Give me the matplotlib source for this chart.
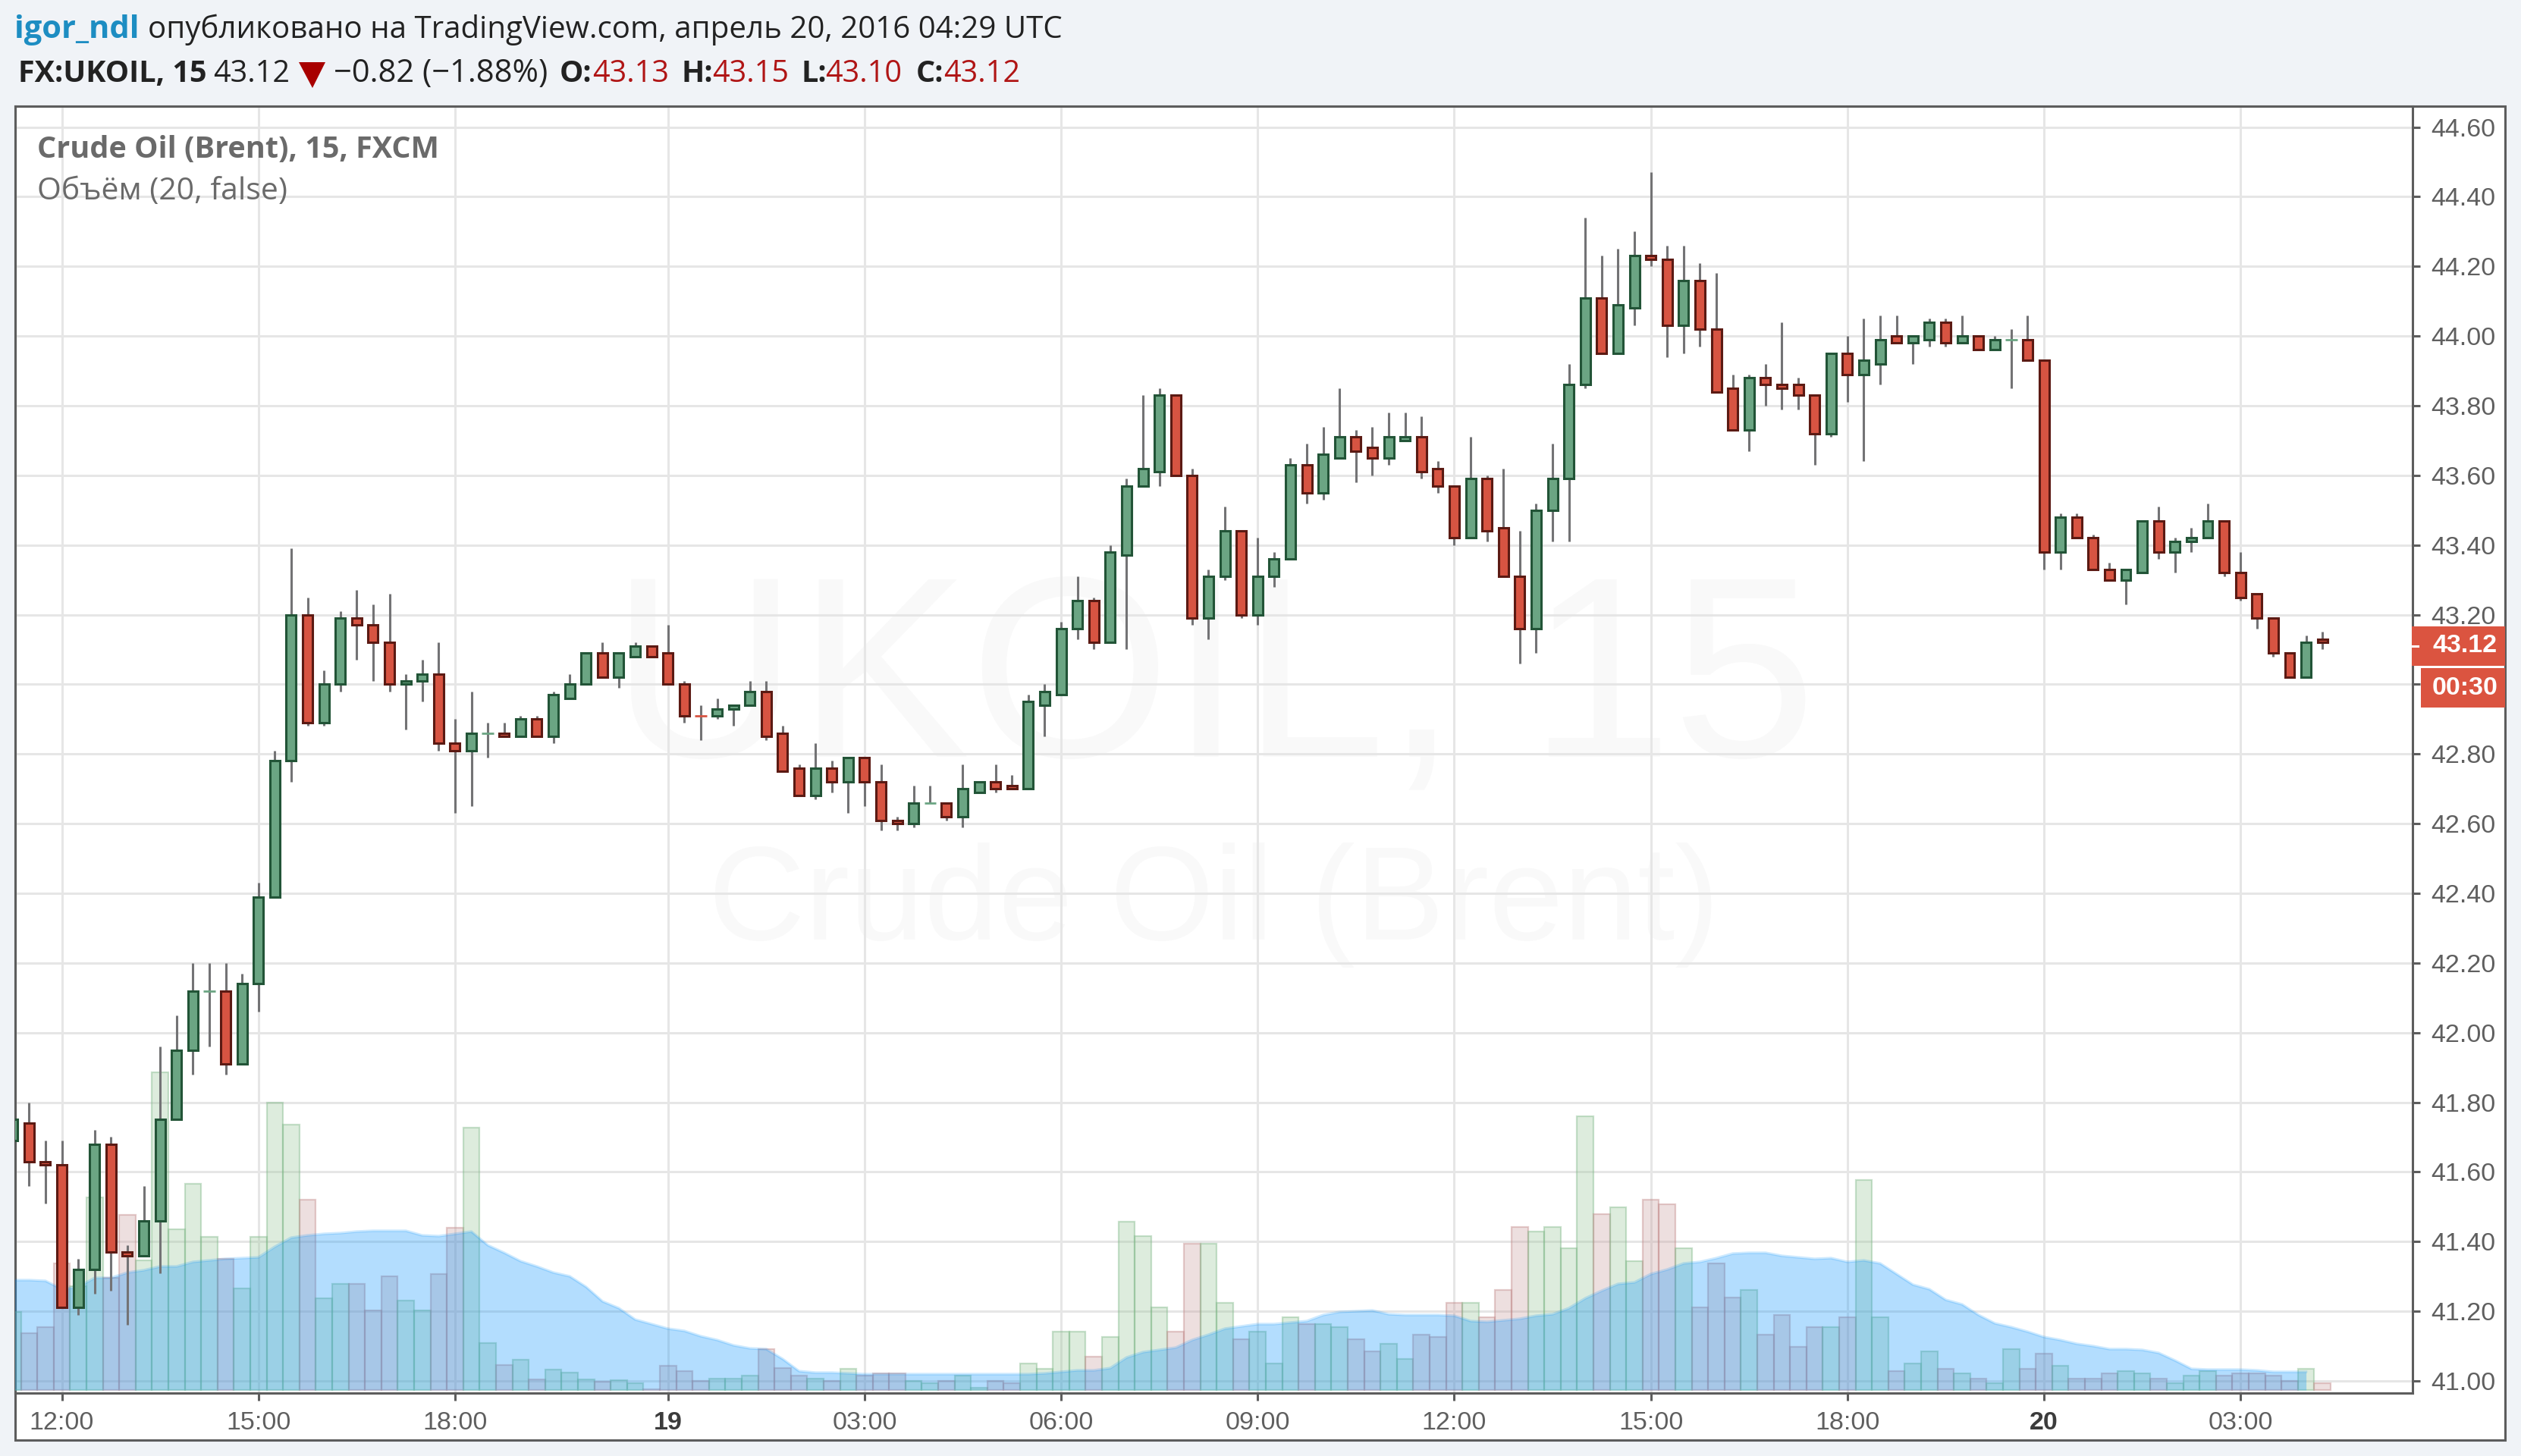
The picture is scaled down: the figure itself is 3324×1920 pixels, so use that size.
import numpy as np
import matplotlib
matplotlib.use("Agg")
import matplotlib.pyplot as plt
from matplotlib.patches import Rectangle, Polygon

W, H = 3324, 1920

# first bar is the one cut by the left border, 12:00 is bar 0
first_bar = -3
opens = [41.69, 41.74, 41.63, 41.62, 41.21, 41.32, 41.68, 41.37, 41.36, 41.46,
         41.75, 41.95, 42.12, 42.12, 41.91, 42.14, 42.39, 42.78, 43.20, 42.89,
         43.00, 43.19, 43.17, 43.12, 43.00, 43.01, 43.03, 42.83, 42.81, 42.86,
         42.86, 42.85, 42.90, 42.85, 42.96, 43.00, 43.09, 43.02, 43.08, 43.11,
         43.09, 43.00, 42.912, 42.91, 42.93, 42.94, 42.98, 42.86, 42.76, 42.68,
         42.76, 42.72, 42.79, 42.72, 42.61, 42.60, 42.66, 42.66, 42.62, 42.69,
         42.72, 42.71, 42.70, 42.94, 42.97, 43.16, 43.24, 43.12, 43.37, 43.57,
         43.61, 43.83, 43.60, 43.19, 43.31, 43.44, 43.20, 43.31, 43.36, 43.63,
         43.55, 43.65, 43.71, 43.68, 43.65, 43.70, 43.71, 43.62, 43.57, 43.42,
         43.59, 43.45, 43.31, 43.16, 43.50, 43.59, 43.86, 44.11, 43.95, 44.08,
         44.23, 44.22, 44.03, 44.16, 44.02, 43.85, 43.73, 43.88, 43.86, 43.86,
         43.83, 43.72, 43.95, 43.89, 43.92, 44.00, 43.98, 43.99, 44.04, 43.98,
         44.00, 43.96, 43.99, 43.99, 43.93, 43.38, 43.48, 43.42, 43.33, 43.30,
         43.32, 43.47, 43.38, 43.41, 43.42, 43.47, 43.32, 43.26, 43.19, 43.09,
         43.02, 43.13]
highs = [41.75, 41.80, 41.69, 41.69, 41.35, 41.72, 41.70, 41.39, 41.56, 41.96,
         42.05, 42.20, 42.20, 42.20, 42.17, 42.43, 42.81, 43.39, 43.25, 43.04,
         43.21, 43.27, 43.23, 43.26, 43.03, 43.07, 43.12, 42.90, 42.98, 42.89,
         42.89, 42.91, 42.91, 42.98, 43.03, 43.09, 43.12, 43.09, 43.12, 43.11,
         43.17, 43.01, 42.94, 42.96, 42.94, 43.01, 43.01, 42.88, 42.77, 42.83,
         42.78, 42.79, 42.79, 42.77, 42.62, 42.71, 42.71, 42.66, 42.77, 42.72,
         42.77, 42.74, 42.97, 43.00, 43.18, 43.31, 43.25, 43.40, 43.59, 43.83,
         43.85, 43.83, 43.62, 43.33, 43.51, 43.44, 43.42, 43.38, 43.65, 43.69,
         43.74, 43.85, 43.73, 43.74, 43.78, 43.78, 43.77, 43.64, 43.57, 43.71,
         43.60, 43.62, 43.44, 43.52, 43.69, 43.92, 44.34, 44.23, 44.25, 44.30,
         44.47, 44.26, 44.26, 44.21, 44.18, 43.89, 43.89, 43.92, 44.04, 43.88,
         43.83, 43.95, 44.00, 44.05, 44.06, 44.06, 44.00, 44.05, 44.05, 44.06,
         44.00, 44.00, 44.02, 44.06, 43.93, 43.49, 43.49, 43.43, 43.35, 43.33,
         43.47, 43.51, 43.42, 43.45, 43.52, 43.47, 43.38, 43.26, 43.19, 43.09,
         43.14, 43.15]
lows = [41.69, 41.56, 41.51, 41.21, 41.19, 41.25, 41.26, 41.16, 41.36, 41.31,
        41.75, 41.88, 41.96, 41.88, 41.91, 42.06, 42.39, 42.72, 42.88, 42.88,
        42.98, 43.07, 43.01, 42.98, 42.87, 42.95, 42.81, 42.63, 42.65, 42.79,
        42.85, 42.85, 42.85, 42.83, 42.96, 43.00, 43.02, 42.99, 43.08, 43.08,
        43.00, 42.89, 42.84, 42.90, 42.88, 42.94, 42.84, 42.75, 42.68, 42.67,
        42.69, 42.63, 42.65, 42.58, 42.58, 42.59, 42.66, 42.61, 42.59, 42.69,
        42.69, 42.70, 42.70, 42.85, 42.97, 43.13, 43.10, 43.12, 43.10, 43.57,
        43.57, 43.60, 43.17, 43.13, 43.30, 43.19, 43.17, 43.28, 43.36, 43.52,
        43.53, 43.65, 43.58, 43.60, 43.63, 43.70, 43.59, 43.55, 43.40, 43.42,
        43.41, 43.31, 43.06, 43.09, 43.41, 43.41, 43.85, 43.95, 43.95, 44.03,
        44.20, 43.94, 43.95, 43.97, 43.84, 43.73, 43.67, 43.80, 43.79, 43.79,
        43.63, 43.71, 43.81, 43.64, 43.86, 43.98, 43.92, 43.97, 43.97, 43.98,
        43.96, 43.96, 43.85, 43.93, 43.33, 43.33, 43.42, 43.33, 43.30, 43.23,
        43.32, 43.36, 43.32, 43.38, 43.42, 43.31, 43.24, 43.16, 43.08, 43.02,
        43.02, 43.10]
closes = [41.75, 41.63, 41.62, 41.21, 41.32, 41.68, 41.37, 41.36, 41.46, 41.75,
          41.95, 42.12, 42.12, 41.91, 42.14, 42.39, 42.78, 43.20, 42.89, 43.00,
          43.19, 43.17, 43.12, 43.00, 43.01, 43.03, 42.83, 42.81, 42.86, 42.86,
          42.85, 42.90, 42.85, 42.97, 43.00, 43.09, 43.02, 43.09, 43.11, 43.08,
          43.00, 42.91, 42.91, 42.93, 42.94, 42.98, 42.85, 42.75, 42.68, 42.76,
          42.72, 42.79, 42.72, 42.61, 42.60, 42.66, 42.66, 42.62, 42.70, 42.72,
          42.70, 42.70, 42.95, 42.98, 43.16, 43.24, 43.12, 43.38, 43.57, 43.62,
          43.83, 43.60, 43.19, 43.31, 43.44, 43.20, 43.31, 43.36, 43.63, 43.55,
          43.66, 43.71, 43.67, 43.65, 43.71, 43.71, 43.61, 43.57, 43.42, 43.59,
          43.44, 43.31, 43.16, 43.50, 43.59, 43.86, 44.11, 43.95, 44.09, 44.23,
          44.22, 44.03, 44.16, 44.02, 43.84, 43.73, 43.88, 43.86, 43.85, 43.83,
          43.72, 43.95, 43.89, 43.93, 43.99, 43.98, 44.00, 44.04, 43.98, 44.00,
          43.96, 43.99, 43.99, 43.93, 43.38, 43.48, 43.42, 43.33, 43.30, 43.33,
          43.47, 43.38, 43.41, 43.42, 43.47, 43.32, 43.25, 43.19, 43.09, 43.02,
          43.12, 43.12]
volumes = [103, 75, 83, 167, 137, 254, 148, 231, 171, 419,
           212, 272, 202, 173, 134, 202, 379, 350, 251, 121,
           140, 140, 105, 150, 118, 105, 153, 214, 346, 62,
           33, 40, 14, 27, 23, 14, 11, 13, 9, 1,
           32, 25, 12, 15, 15, 19, 54, 29, 19, 15,
           12, 28, 19, 22, 22, 12, 9, 12, 19, 3,
           12, 9, 35, 28, 77, 77, 44, 70, 222, 203,
           109, 77, 193, 193, 115, 67, 77, 35, 96, 87,
           87, 83, 67, 51, 61, 41, 73, 70, 115, 115,
           96, 132, 215, 209, 215, 187, 361, 232, 241, 170,
           251, 245, 187, 109, 167, 122, 132, 73, 99, 57,
           83, 83, 96, 277, 96, 25, 35, 51, 28, 22,
           15, 9, 54, 28, 48, 32, 15, 15, 22, 25,
           22, 15, 9, 19, 25, 19, 22, 22, 19, 12,
           28, 9]
volume_ma = [145, 145, 144, 133, 136, 148, 148, 155, 158, 163,
             163, 169, 171, 173, 174, 175, 189, 201, 204, 206,
             207, 209, 210, 210, 210, 204, 203, 206, 209, 191,
             181, 170, 163, 155, 150, 136, 117, 108, 93, 87,
             81, 78, 71, 66, 59, 55, 54, 41, 25, 23,
             23, 22, 21, 21, 21, 21, 21, 21, 21, 21,
             21, 21, 21, 22, 24, 26, 26, 29, 43, 50,
             53, 56, 66, 73, 81, 84, 87, 87, 89, 91,
             99, 103, 104, 105, 100, 99, 99, 99, 98, 91,
             90, 92, 94, 98, 100, 108, 121, 131, 140, 142,
             153, 159, 167, 169, 174, 180, 181, 181, 177, 175,
             173, 174, 169, 171, 167, 153, 139, 133, 119, 113,
             99, 88, 83, 77, 70, 66, 61, 58, 54, 54,
             53, 49, 39, 28, 27, 27, 27, 26, 24, 24,
             24]

time_ticks = [0, 12, 24, 37, 49, 61, 73, 85, 97, 109, 121, 133]
time_labels = ["12:00", "15:00", "18:00", "19", "03:00", "06:00", "09:00",
               "12:00", "15:00", "18:00", "20", "03:00"]
price_ticks = [41.00, 41.20, 41.40, 41.60, 41.80, 42.00, 42.20, 42.40, 42.60, 42.80,
               43.00, 43.20, 43.40, 43.60, 43.80, 44.00, 44.20, 44.40, 44.60]

plt.rcParams['font.family'] = ['Liberation Sans', 'DejaVu Sans']

bg = '#F0F3F7'
frame = '#5D5D5D'
grid_c = '#E6E6E6'
label_c = '#5F5F5F'
tag_c = '#DB5440'


def fx(x):
    return x / W


def fy(y):
    return 1 - y / H


def rect_axes(left, top, right, bottom):
    return [fx(left), fy(bottom), (right - left) / W, (bottom - top) / H]


fig = plt.figure(figsize=(W / 100, H / 100), dpi=100, facecolor=bg)

# white panel with the outer frame
fig.patches.append(Rectangle((fx(20), fy(1899)), 3283 / W, 1759 / H, transform=fig.transFigure,
                             facecolor='white', edgecolor=frame, linewidth=2.2, zorder=0))

pos = rect_axes(20, 140, 3181, 1837)

# price axes: grid, watermark, ticks
ax = fig.add_axes(pos, zorder=1)
ax.patch.set_alpha(0)
xs = np.arange(len(closes)) + first_bar
ax.set_xlim(-2.85, 143.5)
ax.set_ylim(40.965, 44.66)
ax.yaxis.tick_right()
ax.set_yticks(price_ticks)
ax.set_yticklabels([f"{p:.2f}" for p in price_ticks])
ax.set_xticks(time_ticks)
ax.set_xticklabels(time_labels)
ax.grid(True, color=grid_c, linewidth=2.2)
ax.set_axisbelow(True)
ax.tick_params(axis='both', length=7.5, width=2.2, color=frame, labelcolor=label_c, labelsize=24.5)
ax.tick_params(axis='x', pad=10)
ax.tick_params(axis='y', pad=10)
for lab in ax.get_xticklabels():
    if len(lab.get_text()) == 2:
        lab.set_fontweight('bold')
        lab.set_color('#3C3C3C')
for s in ax.spines.values():
    s.set_color(frame)
    s.set_linewidth(2.2)

ax.text(0.5, 0.546, "UKOIL, 15", transform=ax.transAxes, ha='center', va='center',
        fontsize=245, color='#F9F9F9', zorder=0.5)
ax.text(0.5, 0.379, "Crude Oil (Brent)", transform=ax.transAxes, ha='center', va='center',
        fontsize=127, color='#F9F9F9', zorder=0.5)

# volume and its moving average, on their own scale
vol_ax = fig.add_axes(pos, zorder=2, sharex=ax)
vol_ax.patch.set_alpha(0)
vol_ax.set_ylim(-4, 1693)
vol_ax.axis('off')
c = np.array(closes)
o = np.array(opens)
up = c >= o
vol_fill = [(145 / 255, 195 / 255, 145 / 255, 0.3) if u else (198 / 255, 152 / 255, 152 / 255, 0.3) for u in up]
vol_edge = [(120 / 255, 180 / 255, 130 / 255, 0.4) if u else (190 / 255, 130 / 255, 130 / 255, 0.4) for u in up]
vol_ax.bar(xs, volumes, width=1.0, color=vol_fill, edgecolor=vol_edge, linewidth=1.6)
ma_x = xs[:len(volume_ma)]
vol_ax.fill_between(ma_x, 0, volume_ma, color=(5 / 255, 145 / 255, 252 / 255), alpha=0.3, linewidth=0)
vol_ax.plot(ma_x, volume_ma, color=(5 / 255, 145 / 255, 252 / 255), alpha=0.2, linewidth=2.4)

# candles
candle_ax = fig.add_axes(pos, zorder=3, sharex=ax, sharey=ax)
candle_ax.patch.set_alpha(0)
candle_ax.axis('off')
candle_ax.vlines(xs, lows, highs, color='#737375', linewidth=2.2, zorder=1)
tops = np.maximum(o, c)
bots = np.minimum(o, c)
doji = (tops - bots) < 0.005
fills = np.where(up, '#6BA583', '#D75442')
edges = np.where(up, '#225437', '#5B1A13')
candle_ax.bar(xs[~doji], (tops - bots)[~doji], bottom=bots[~doji], width=0.6,
              color=fills[~doji], edgecolor=edges[~doji], linewidth=2.2, zorder=2)
candle_ax.hlines(c[doji], xs[doji] - 0.36, xs[doji] + 0.36, color=fills[doji], linewidth=2, zorder=2)

# last price and countdown tags, over the price scale
tag_ax = fig.add_axes([0, 0, 1, 1], zorder=4)
tag_ax.set_xlim(0, W)
tag_ax.set_ylim(H, 0)
tag_ax.axis('off')
tag_ax.add_patch(Rectangle((3180, 826), 123, 52, facecolor=tag_c, edgecolor='none'))
tag_ax.add_patch(Rectangle((3192, 881), 111, 52, facecolor=tag_c, edgecolor='none'))
tag_ax.plot([3181, 3188], [852, 852], color='white', linewidth=2.2)
tag_ax.text(3250, 852, "43.12", color='white', fontsize=24.5, fontweight='bold', ha='center', va='center')
tag_ax.text(3250, 907, "00:30", color='white', fontsize=24.5, fontweight='bold', ha='center', va='center')

# legend in the pane
head_font = ['Open Sans', 'DejaVu Sans']
tag_ax.text(49, 208, "Crude Oil (Brent), 15, FXCM", color='#6A6A6A', fontsize=28.5, fontweight='bold',
            family=head_font, va='baseline')
tag_ax.text(49, 263, "Объём (20, false)", color='#6A6A6A', fontsize=29.5, family=head_font, va='baseline')

# header lines
dark = '#222222'
red = '#B01515'
tag_ax.text(19, 50, "igor_ndl", color='#1D8DC2', fontsize=30, fontweight='bold', family=head_font, va='baseline')
tag_ax.text(195, 50, "опубликовано на TradingView.com, апрель 20, 2016 04:29 UTC", color=dark, fontsize=29,
            family=head_font, va='baseline')
line2 = [(24, "FX:UKOIL, 15", dark, 'bold', 28.5), (281, "43.12", dark, 'normal', 28.5),
         (440, "−0.82 (−1.88%)", dark, 'normal', 30), (738, "O:", dark, 'bold', 28.5),
         (781, "43.13", red, 'normal', 28.5), (899, "H:", dark, 'bold', 28.5), (939, "43.15", red, 'normal', 28.5),
         (1056, "L:", dark, 'bold', 28.5), (1088, "43.10", red, 'normal', 28.5), (1208, "C:", dark, 'bold', 28.5),
         (1244, "43.12", red, 'normal', 28.5)]
for x0, txt, col, wt, fs in line2:
    tag_ax.text(x0, 108, txt, color=col, fontsize=fs, fontweight=wt, family=head_font, va='baseline')
tag_ax.add_patch(Polygon([(394, 82), (429, 82), (412, 116)], facecolor='#A80000', edgecolor='none'))

fig.savefig("out.png", dpi=100, facecolor=bg)
